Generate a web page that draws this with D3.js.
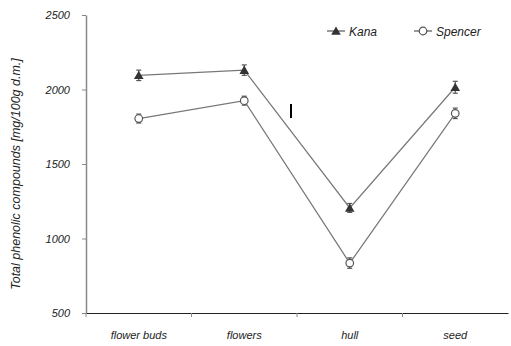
<!DOCTYPE html>
<html lang="en">
<head>
<meta charset="UTF-8">
<title>Total phenolic compounds</title>
<script src="https://d3js.org/d3.v7.min.js"></script>
<style>
  body { margin: 0; background: #fff; }
  svg text { font-family: 'Liberation Sans', Arial, sans-serif; font-style: italic; fill: #222; }
</style>
</head>
<body>
<svg id="chart" width="511" height="346"></svg>
<script>
// categories and values
const categories = ["flower buds", "flowers", "hull", "seed"];
const kana = [2095, 2130, 1205, 2015];
const kanaErr = [35, 35, 30, 40];
const spencer = [1805, 1925, 835, 1840];
const spencerErr = [30, 30, 35, 35];
const yTicks = [500, 1000, 1500, 2000, 2500];

const svg = d3.select("#chart");
const margin = { left: 86, right: 3, top: 15, bottom: 33 };
const W = 511, H = 346;

const x = d3.scaleBand().domain(categories)
    .range([margin.left, W - margin.right]);
const y = d3.scaleLinear().domain([500, 2500])
    .range([H - margin.bottom, margin.top]);

// y axis
const yAxis = svg.append("g")
    .attr("transform", `translate(${margin.left},0)`)
    .call(d3.axisLeft(y).tickValues(yTicks).tickFormat(d3.format("d"))
        .tickSize(4).tickSizeOuter(0).tickPadding(12));
yAxis.select(".domain").attr("stroke", "#888").attr("stroke-width", 1.5);
yAxis.selectAll(".tick line").attr("stroke", "#888");
yAxis.selectAll("text").attr("font-size", 11).attr("fill", "#333");

// x axis
const xAxis = svg.append("g")
    .attr("transform", `translate(0,${H - margin.bottom})`)
    .call(d3.axisBottom(x).tickSize(0).tickPadding(18));
xAxis.select(".domain").attr("stroke", "#222").attr("stroke-width", 1.2);
xAxis.selectAll("text").attr("font-size", 11).attr("fill", "#222");
// tick marks between categories
xAxis.selectAll(".sep").data(categories).enter().append("line")
    .attr("x1", d => x(d)).attr("x2", d => x(d))
    .attr("y1", 0).attr("y2", 4)
    .attr("stroke", "#888");

// y label
svg.append("text")
    .attr("transform", "translate(20,174) rotate(-90)")
    .attr("text-anchor", "middle")
    .attr("font-size", 12.5)
    .attr("fill", "#333")
    .text("Total phenolic compounds [mg/100g d.m.]");

const cx = d => x(d) + x.bandwidth() / 2;
const line = d3.line().x((d, i) => cx(categories[i])).y(d => y(d));

function drawSeries(vals, errs, isKana) {
    const g = svg.append("g");
    g.append("path").datum(vals)
        .attr("d", line)
        .attr("fill", "none")
        .attr("stroke", "#777")
        .attr("stroke-width", 1.2);
    vals.forEach((v, i) => {
        const px = cx(categories[i]);
        g.append("line")
            .attr("x1", px).attr("x2", px)
            .attr("y1", y(v - errs[i])).attr("y2", y(v + errs[i]))
            .attr("stroke", "#555").attr("stroke-width", 1.2);
        [v - errs[i], v + errs[i]].forEach(e => {
            g.append("line")
                .attr("x1", px - 2.5).attr("x2", px + 2.5)
                .attr("y1", y(e)).attr("y2", y(e))
                .attr("stroke", "#555").attr("stroke-width", 1.2);
        });
        if (isKana) {
            g.append("path")
                .attr("d", d3.symbol(d3.symbolTriangle, 40)())
                .attr("transform", `translate(${px},${y(v) + 1})`)
                .attr("fill", "#333");
        } else {
            g.append("circle")
                .attr("cx", px).attr("cy", y(v)).attr("r", 3.8)
                .attr("fill", "#fff").attr("stroke", "#555").attr("stroke-width", 1.2);
        }
    });
}
drawSeries(kana, kanaErr, true);
drawSeries(spencer, spencerErr, false);

// legend
const legend = [
    { name: "Kana", x: 327, kana: true },
    { name: "Spencer", x: 414, kana: false }
];
legend.forEach(l => {
    const g = svg.append("g").attr("transform", `translate(${l.x},31)`);
    g.append("line").attr("x1", 0).attr("x2", 18).attr("stroke", "#777").attr("stroke-width", 1.5);
    if (l.kana) {
        g.append("path").attr("d", d3.symbol(d3.symbolTriangle, 40)())
            .attr("transform", "translate(9,1)").attr("fill", "#333");
    } else {
        g.append("circle").attr("cx", 9).attr("r", 3.8)
            .attr("fill", "#fff").attr("stroke", "#555").attr("stroke-width", 1.2);
    }
    g.append("text").attr("x", 22).attr("y", 4.5)
        .attr("font-size", 12).text(l.name);
});

// stray mark in the original
svg.append("line")
    .attr("x1", 291).attr("x2", 291).attr("y1", 104).attr("y2", 118)
    .attr("stroke", "#000").attr("stroke-width", 2);
</script>
</body>
</html>
